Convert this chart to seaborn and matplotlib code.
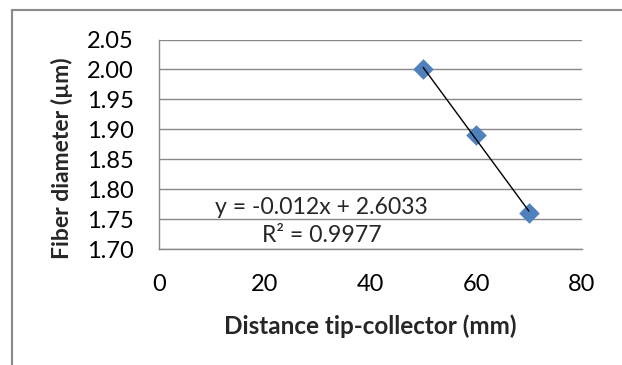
import numpy as np
import pandas as pd
import matplotlib
matplotlib.use("Agg")
import matplotlib.pyplot as plt
from matplotlib.lines import Line2D
import seaborn as sns

# ---- data ----
distance_mm = [50, 60, 70]
fiber_diameter_um = [2.00, 1.89, 1.76]
x_ticks = [0, 20, 40, 60, 80]
y_ticks = [1.70, 1.75, 1.80, 1.85, 1.90, 1.95, 2.00, 2.05]
x_label = "Distance tip-collector (mm)"
y_label = "Fiber diameter (µm)"

df = pd.DataFrame({"x": distance_mm, "y": fiber_diameter_um})

sns.set_theme(style="white")
plt.rcParams["font.family"] = ["Lato", "DejaVu Sans"]

W, H, DPI = 622, 365, 100
fig = plt.figure(figsize=(W / DPI, H / DPI), dpi=DPI)

# plot area in pixels
left, right, top, bottom = 159, 581.7, 39.5, 249
ax = fig.add_axes([left / W, 1 - bottom / H, (right - left) / W, (bottom - top) / H])

grid_c = "#898989"
sns.scatterplot(data=df, x="x", y="y", marker="D", s=110, color="#4F81BD",
                linewidth=0, ax=ax, zorder=3)
sns.regplot(data=df, x="x", y="y", scatter=False, ci=None, truncate=True,
            line_kws={"color": "black", "linewidth": 1.0, "zorder": 4}, ax=ax)

ax.set_xlim(x_ticks[0], x_ticks[-1])
ax.set_ylim(y_ticks[0], y_ticks[-1])
ax.set_xticks(x_ticks)
ax.set_yticks(y_ticks)
ax.set_xticklabels([f"{v:d}" for v in x_ticks])
ax.set_yticklabels([f"{v:.2f}" for v in y_ticks])
ax.tick_params(axis="both", length=0, labelsize=17, colors="black")
ax.tick_params(axis="x", pad=18)
ax.tick_params(axis="y", pad=18)

ax.grid(axis="y", color=grid_c, linewidth=1.0)
ax.grid(axis="x", visible=False)
ax.set_axisbelow(True)
for s in ["top", "right"]:
    ax.spines[s].set_visible(False)
for s in ["left", "bottom"]:
    ax.spines[s].set_color(grid_c)
    ax.spines[s].set_linewidth(1.0)

ax.set_xlabel(x_label, fontsize=17.5, fontweight="bold", va="center")
ax.xaxis.set_label_coords(0.5, (bottom - 326) / (bottom - top))
ax.set_ylabel(y_label, fontsize=16.5, fontweight="bold", va="center")
ax.yaxis.set_label_coords((62 - left) / (right - left), (bottom - 158) / (bottom - top))

# trendline equation from fit
slope, intercept = np.polyfit(distance_mm, fiber_diameter_um, 1)
pred = np.polyval([slope, intercept], distance_mm)
yv = np.array(fiber_diameter_um)
r2 = 1 - np.sum((yv - pred) ** 2) / np.sum((yv - yv.mean()) ** 2)
sign = "+" if intercept >= 0 else "-"
eq = f"y = {slope:.3f}x {sign} {abs(intercept):.4f}"
fig.text(321 / W, 1 - 207 / H, eq, ha="center", va="center", fontsize=16.6)
fig.text(322 / W, 1 - 236 / H, f"R² = {r2:.4f}", ha="center", va="center", fontsize=16.6)

# chart border (Excel chart area)
bc = "#8a8a8a"
fig.add_artist(Line2D([11.5 / W, 11.5 / W], [0, 1 - 10 / H], color=bc, linewidth=1.5,
                      transform=fig.transFigure))
fig.add_artist(Line2D([11.5 / W, 1], [1 - 10 / H, 1 - 10 / H], color=bc, linewidth=1.5,
                      transform=fig.transFigure))

fig.savefig("out.png", dpi=DPI)
